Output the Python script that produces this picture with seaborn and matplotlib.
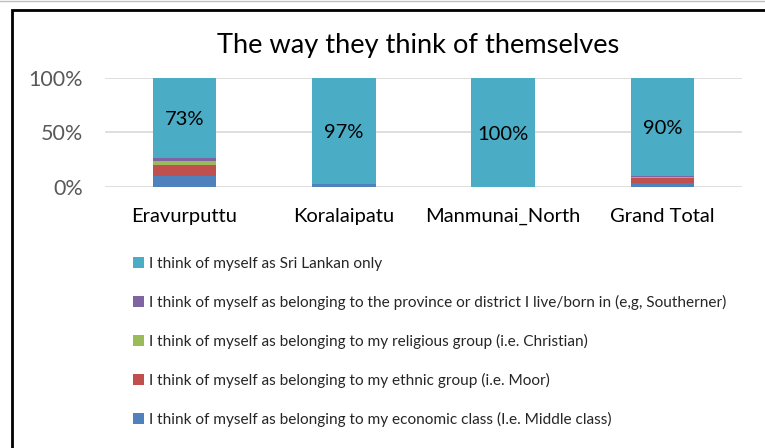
import matplotlib
matplotlib.use('Agg')
import matplotlib.pyplot as plt
import seaborn as sns
import numpy as np
from matplotlib.patches import Patch, Rectangle
from matplotlib.lines import Line2D

# Data (shares, %)
regions = ['Eravurputtu', 'Koralaipatu', 'Manmunai_North', 'Grand Total']
economic = [10, 3, 0, 4]
ethnic = [10, 0, 0, 4]
religious = [4, 0, 0, 1]
province = [3, 0, 0, 1]
sri_lankan = [73, 97, 100, 90]

labels = [
    'I think of myself as belonging to my economic class (I.e. Middle class)',
    'I think of myself as belonging to my ethnic group (i.e. Moor)',
    'I think of myself as belonging to my religious group (i.e. Christian)',
    'I think of myself as belonging to the province or district I live/born in (e,g, Southerner)',
    'I think of myself as Sri Lankan only',
]
colors = ['#4F81BD', '#C0504D', '#9BBB59', '#8064A2', '#4BACC6']
series = [economic, ethnic, religious, province, sri_lankan]

sns.set_style('white')
plt.rcParams['font.family'] = ['Lato', 'DejaVu Sans']

fig = plt.figure(figsize=(7.65, 4.48), dpi=100)
ax = fig.add_axes([0.137, 0.5826, 0.833, 0.2433])

bottom = np.zeros(len(regions))
for vals, col in zip(series, colors):
    sns.barplot(x=regions, y=vals, bottom=bottom, color=col, width=0.4,
                saturation=1, ax=ax, linewidth=0, zorder=3)
    bottom += np.array(vals)

# value labels on the Sri Lankan segment
base = np.array(economic) + np.array(ethnic) + np.array(religious) + np.array(province)
for i, v in enumerate(sri_lankan):
    ax.text(i, base[i] + v / 2 - 1.5, f'{v}%', ha='center', va='center',
            fontsize=14.5, color='#000000', zorder=4)

ax.set_ylim(0, 100)
ax.set_xlim(-0.5, 3.5)
ax.set_yticks([0, 50, 100])
ax.set_yticklabels(['0%', '50%', '100%'])
ax.tick_params(axis='both', length=0, labelcolor='#595959')
ax.tick_params(axis='x', labelcolor='#000000', pad=15, labelsize=14.5)
ax.tick_params(axis='y', pad=15.5, labelsize=15.5)
ax.grid(axis='y', color='#D9D9D9', linewidth=1.2, zorder=0)
ax.set_axisbelow(True)
for s in ax.spines.values():
    s.set_visible(False)
ax.set_xlabel('')
ax.set_ylabel('')

fig.text(0.547, 0.898, 'The way they think of themselves', ha='center', va='center',
         fontsize=19.6, color='#000000')

# legend (reversed order like the reference)
handles = [Patch(facecolor=c, edgecolor='none') for c in colors[::-1]]
fig.legend(handles, labels[::-1], loc='upper left', bbox_to_anchor=(0.174, 0.427),
           frameon=False, fontsize=11.1, labelspacing=1.56, handlelength=0.7,
           handleheight=0.7, handletextpad=0.3, borderaxespad=0, borderpad=0)

# outer frame
fig.patches.append(Rectangle((12 / 765, -0.05), 1.0, 1 - 10 / 448 + 0.05,
                             transform=fig.transFigure, fill=False,
                             edgecolor='black', linewidth=2))
fig.lines.append(Line2D([0, 1], [1 - 1 / 448, 1 - 1 / 448], transform=fig.transFigure,
                        color='#BFBFBF', linewidth=1))

fig.savefig('out.png', dpi=100)
